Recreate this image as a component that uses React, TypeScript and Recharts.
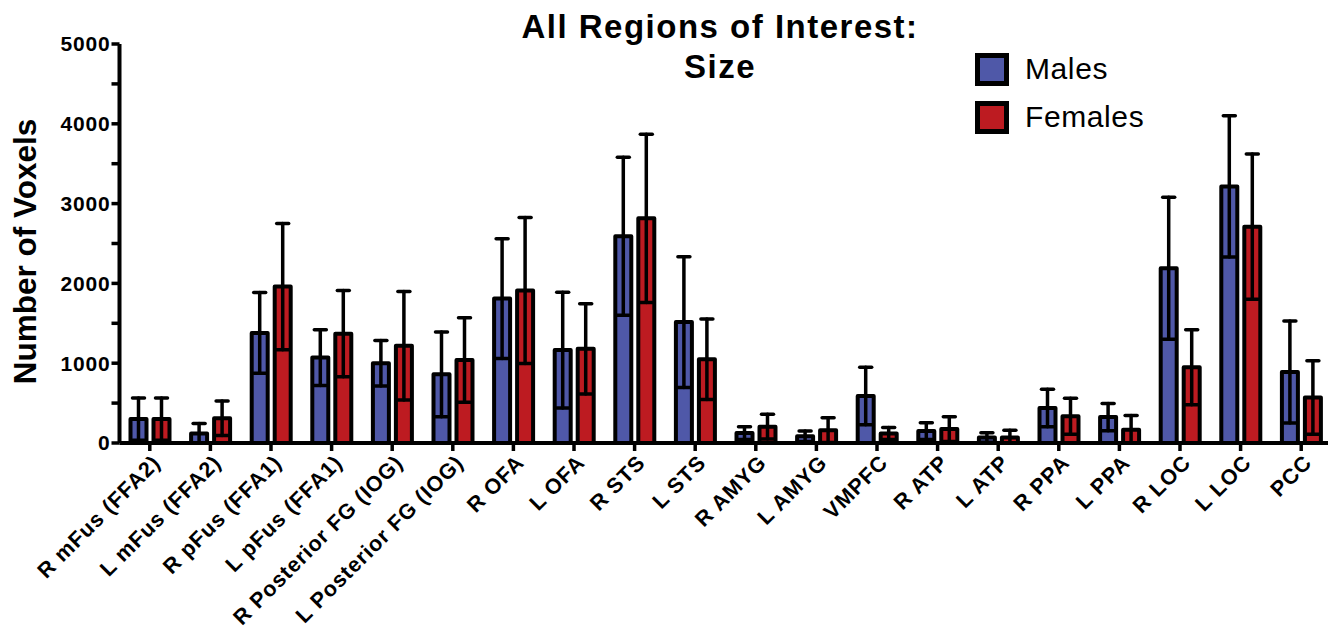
import React from "react";
import { BarChart, Bar, XAxis, YAxis, ErrorBar, Legend } from "recharts";

const categories = [
  "R mFus (FFA2)",
  "L mFus (FFA2)",
  "R pFus (FFA1)",
  "L pFus (FFA1)",
  "R Posterior FG (IOG)",
  "L Posterior FG (IOG)",
  "R OFA",
  "L OFA",
  "R STS",
  "L STS",
  "R AMYG",
  "L AMYG",
  "VMPFC",
  "R ATP",
  "L ATP",
  "R PPA",
  "L PPA",
  "R LOC",
  "L LOC",
  "PCC",
];

const malesMean = [300, 120, 1380, 1070, 1000, 860, 1810, 1165, 2590, 1515, 125, 85, 590, 150, 70, 440, 325, 2190, 3215, 890];
const malesSd = [265, 125, 505, 350, 285, 530, 750, 725, 990, 820, 80, 65, 360, 105, 60, 235, 170, 890, 885, 640];
const femalesMean = [300, 310, 1960, 1370, 1220, 1040, 1910, 1180, 2815, 1050, 205, 160, 120, 175, 70, 335, 165, 950, 2710, 570];
const femalesSd = [265, 215, 790, 540, 680, 530, 915, 565, 1055, 505, 155, 155, 75, 155, 90, 225, 180, 470, 910, 460];

const yTicks = [0, 500, 1000, 1500, 2000, 2500, 3000, 3500, 4000, 4500, 5000];
const legendOrder = ["Males", "Females"];

const BLUE = "#4F58A8";
const RED = "#BD1B21";
const FONT = "'Liberation Sans', Arial, Helvetica, sans-serif";

const data = categories.map((name, i) => ({
  name,
  males: malesMean[i],
  malesErr: [Math.min(malesSd[i], malesMean[i]), malesSd[i]],
  females: femalesMean[i],
  femalesErr: [Math.min(femalesSd[i], femalesMean[i]), femalesSd[i]],
}));

const XTick = (props: any) => {
  const { x, y, payload } = props;
  return (
    <text
      x={0}
      y={0}
      transform={`translate(${x + 12},${y + 11}) rotate(-45)`}
      textAnchor="end"
      fill="#000"
      fontFamily={FONT}
      fontWeight="bold"
      fontSize={21.5}
      letterSpacing={0.9}
    >
      {payload.value}
    </text>
  );
};

const YLabel = (props: any) => {
  const vb = props.viewBox || { y: 44, height: 399 };
  const cy = vb.y + vb.height / 2 + 8;
  return (
    <text
      x={36}
      y={cy}
      transform={`rotate(-90, 36, ${cy})`}
      textAnchor="middle"
      fill="#000"
      fontFamily={FONT}
      fontWeight="bold"
      fontSize={31.5}
    >
      Number of Voxels
    </text>
  );
};

const LegendBox = (props: any) => {
  const items = [...(props.payload || [])].sort(
    (a: any, b: any) => legendOrder.indexOf(a.value) - legendOrder.indexOf(b.value)
  );
  return (
    <div style={{ fontFamily: FONT, fontSize: 30, letterSpacing: 0.6, color: "#000" }}>
      {items.map((item: any) => (
        <div
          key={item.value}
          style={{ display: "flex", alignItems: "center", height: 48 }}
        >
          <div
            style={{
              width: 24,
              height: 23,
              border: "5px solid #000",
              background: item.color,
              marginRight: 16,
            }}
          />
          <span>{item.value}</span>
        </div>
      ))}
    </div>
  );
};

export default function App() {
  return (
    <div
      style={{
        position: "relative",
        width: 1336,
        height: 633,
        margin: "-8px 0 0 -8px",
        background: "#fff",
      }}
    >
      <div
        style={{
          position: "absolute",
          left: 420,
          top: 7,
          width: 600,
          textAlign: "center",
          fontFamily: FONT,
          fontWeight: "bold",
          fontSize: 33,
          letterSpacing: 1.5,
          lineHeight: "40px",
          zIndex: 2,
        }}
      >
        All Regions of Interest:
        <br />
        Size
      </div>
      <BarChart
        width={1336}
        height={633}
        data={data}
        margin={{ top: 44, right: 4.5, bottom: 10, left: 19.5 }}
        barSize={16}
        barGap={7}
      >
        <XAxis
          dataKey="name"
          interval={0}
          tick={<XTick />}
          tickSize={8}
          height={180}
          axisLine={{ stroke: "#000", strokeWidth: 4 }}
          tickLine={{ stroke: "#000", strokeWidth: 3.5 }}
        />
        <YAxis
          width={100}
          domain={[0, 5000]}
          ticks={yTicks}
          interval={0}
          tickSize={8}
          tickMargin={1}
          tickFormatter={(v: number) => (v % 1000 === 0 ? String(v) : "")}
          tick={{ fill: "#000", fontSize: 21, fontWeight: "bold", fontFamily: FONT, letterSpacing: 0.8 }}
          axisLine={{ stroke: "#000", strokeWidth: 4 }}
          tickLine={{ stroke: "#000", strokeWidth: 3.5 }}
          label={<YLabel />}
        />
        <Legend
          layout="vertical"
          align="center"
          verticalAlign="middle"
          content={<LegendBox />}
          wrapperStyle={{ left: 975, top: 45, width: 250, height: 100 }}
        />
        <Bar
          dataKey="males"
          name="Males"
          fill={BLUE}
          stroke="#000"
          strokeWidth={4}
          strokeLinejoin="round"
          isAnimationActive={false}
        >
          <ErrorBar
            dataKey="malesErr"
            width={6}
            stroke="#000"
            strokeWidth={3.5}
            strokeLinecap="round"
            direction="y"
            isAnimationActive={false}
          />
        </Bar>
        <Bar
          dataKey="females"
          name="Females"
          fill={RED}
          stroke="#000"
          strokeWidth={4}
          strokeLinejoin="round"
          isAnimationActive={false}
        >
          <ErrorBar
            dataKey="femalesErr"
            width={6}
            stroke="#000"
            strokeWidth={3.5}
            strokeLinecap="round"
            direction="y"
            isAnimationActive={false}
          />
        </Bar>
      </BarChart>
    </div>
  );
}
